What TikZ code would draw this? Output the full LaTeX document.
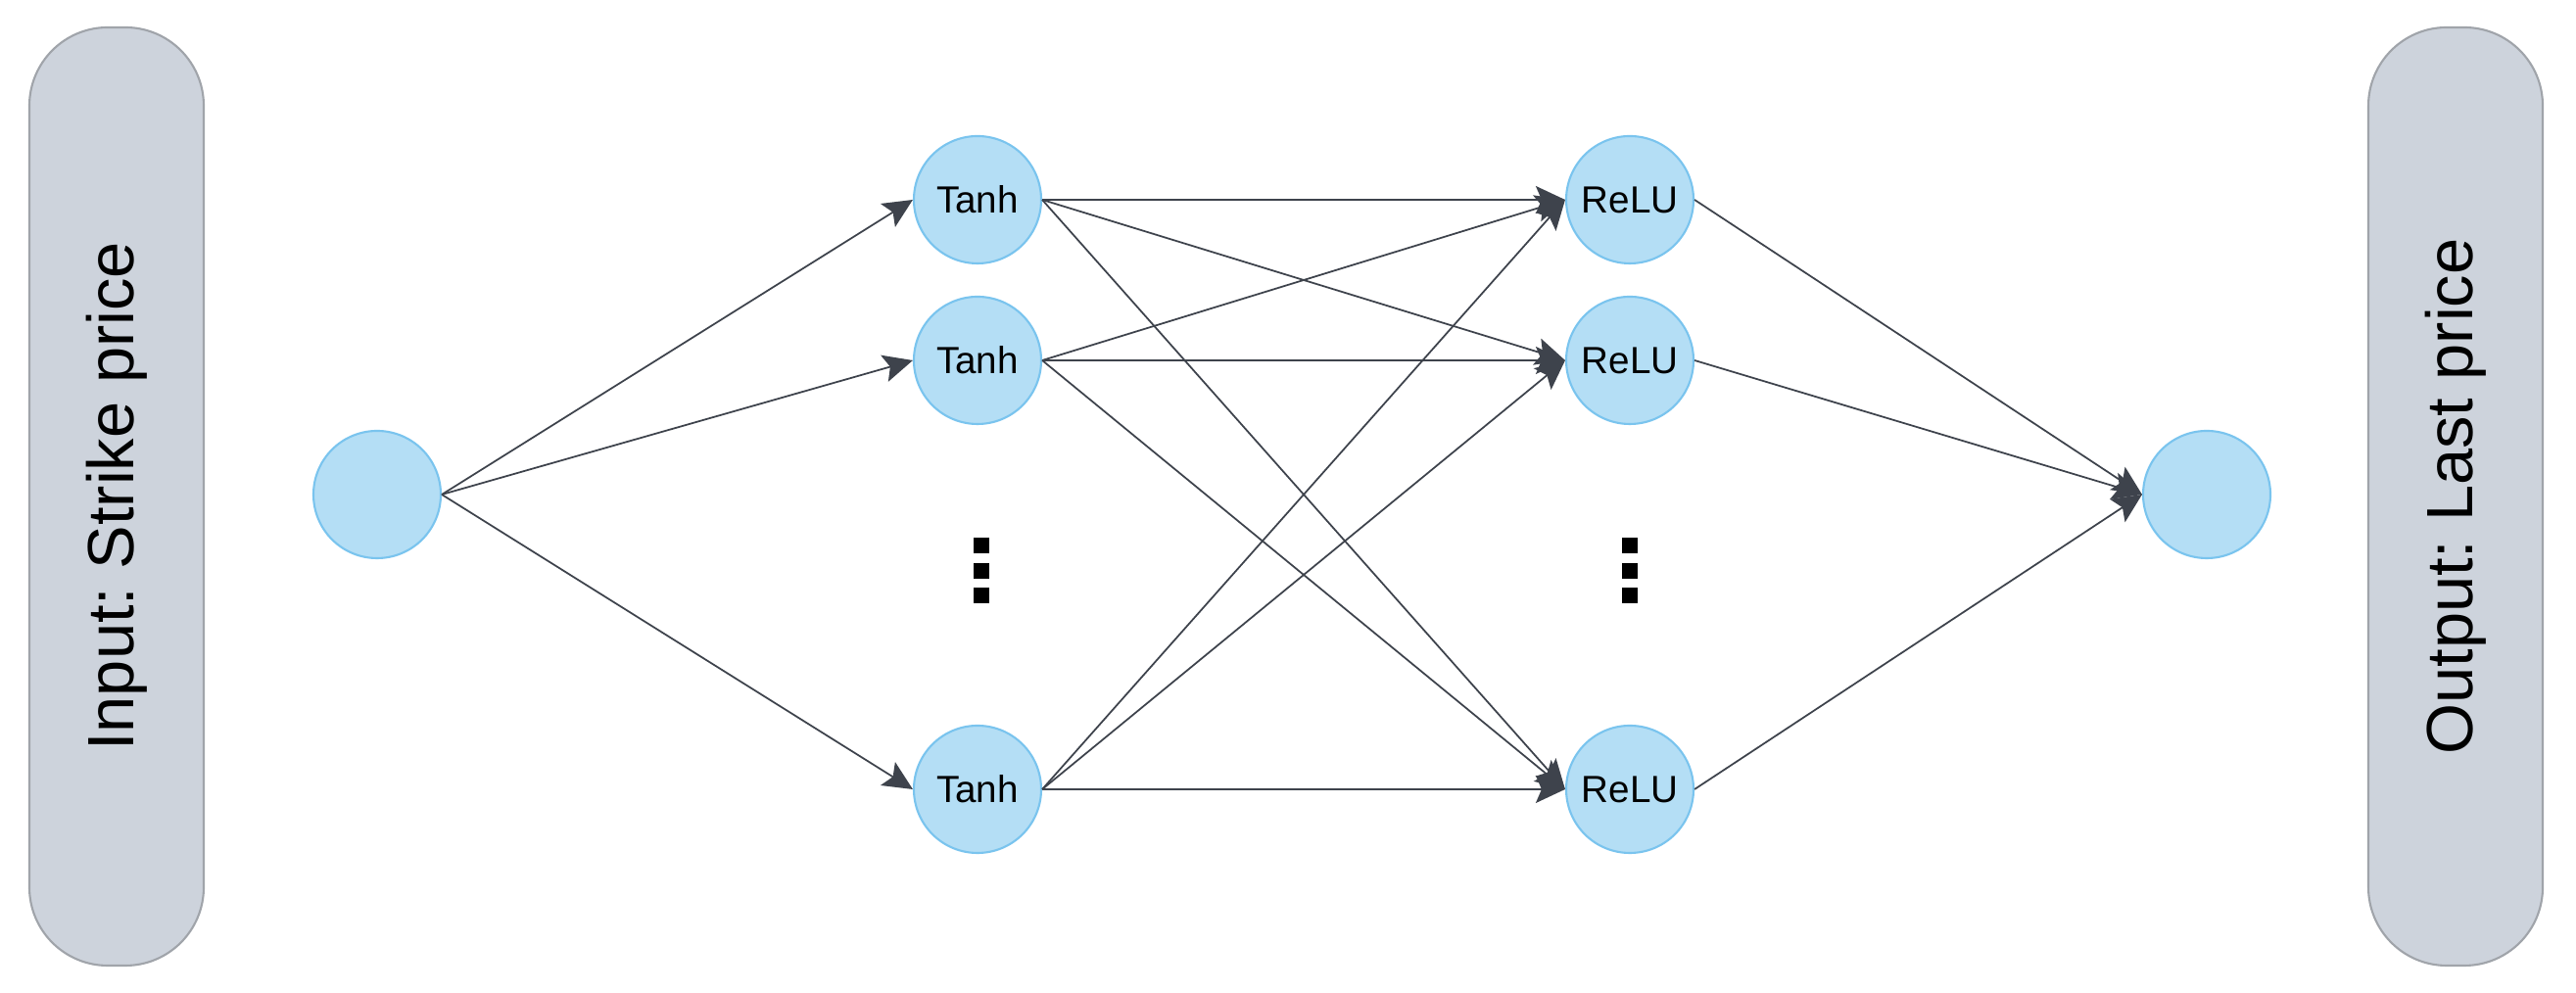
\documentclass[tikz,border=0pt]{standalone}
\usepackage{fontspec}
\setmainfont{Liberation Sans}
\frenchspacing
\usetikzlibrary{arrows.meta}
\definecolor{cellfill}{RGB}{180,222,245}
\definecolor{celledge}{RGB}{122,196,238}
\definecolor{boxfill}{RGB}{205,211,220}
\definecolor{boxedge}{RGB}{160,164,170}
\definecolor{wire}{RGB}{62,67,76}
\tikzset{
  cell/.style={circle,fill=cellfill,draw=celledge,line width=0.6pt,minimum size=1.3cm,inner sep=0pt,font=\fontsize{11}{13}\selectfont},
  sidebox/.style={rectangle,rounded corners=0.8cm,fill=boxfill,draw=boxedge,line width=0.6pt,minimum width=9.58cm,minimum height=1.78cm,rotate=90,font=\fontsize{19}{23}\selectfont},
  link/.style={draw=wire,line width=0.5pt,-{Stealth[length=3mm,width=2.8mm,inset=0.6mm]}}
}
\begin{document}
\begin{tikzpicture}
  \useasboundingbox (0,0) rectangle (26.3,10.14);
  \node[sidebox] (inbox) at (1.19,5.07) {Input: Strike price};
  \node[sidebox] (outbox) at (25.07,5.07) {Output: Last price};

  \node[cell] (in) at (3.85,5.09) {};
  \node[cell] (t1) at (9.98,8.10) {Tanh};
  \node[cell] (t2) at (9.98,6.46) {Tanh};
  \node[cell] (t3) at (9.98,2.08) {Tanh};
  \node[cell] (r1) at (16.64,8.10) {ReLU};
  \node[cell] (r2) at (16.64,6.46) {ReLU};
  \node[cell] (r3) at (16.64,2.08) {ReLU};
  \node[cell] (out) at (22.53,5.09) {};

  % vertical dots
  \foreach \x in {10.02,16.64}
    \foreach \y in {4.57,4.31,4.06}
      \fill (\x-0.08,\y-0.08) rectangle (\x+0.08,\y+0.08);

  \path (in.east) edge[link] (t1.west) edge[link] (t2.west) edge[link] (t3.west);
  \path (t1.east) edge[link] (r1.west) edge[link] (r2.west) edge[link] (r3.west);
  \path (t2.east) edge[link] (r1.west) edge[link] (r2.west) edge[link] (r3.west);
  \path (t3.east) edge[link] (r1.west) edge[link] (r2.west) edge[link] (r3.west);
  \path (r1.east) edge[link] (out.west);
  \path (r2.east) edge[link] (out.west);
  \path (r3.east) edge[link] (out.west);
\end{tikzpicture}
\end{document}
